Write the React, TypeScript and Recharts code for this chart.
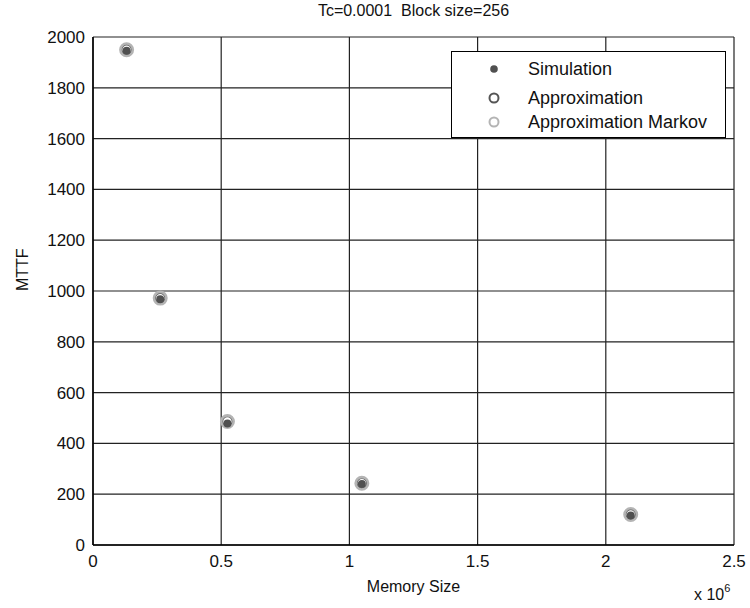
import React from 'react';
import { ScatterChart, Scatter, XAxis, YAxis, CartesianGrid } from 'recharts';

const memorySize = [0.131072, 0.262144, 0.524288, 1.048576, 2.097152];
const simulation = [1946, 968, 478, 240, 116];
const approximation = [1950, 972, 486, 243, 120];
const approximationMarkov = [1950, 972, 486, 243, 120];
const xTicks = [0, 0.5, 1, 1.5, 2, 2.5];
const yTicks = [0, 200, 400, 600, 800, 1000, 1200, 1400, 1600, 1800, 2000];

const toPts = (ys: number[]) => memorySize.map((x, i) => ({ x, y: ys[i] }));
const simData = toPts(simulation);
const approxData = toPts(approximation);
const markovData = toPts(approximationMarkov);

const FONT = 'Liberation Sans, Arial, sans-serif';

const SimShape = (p: any) => <circle cx={p.cx} cy={p.cy} r={4} fill="#505050" />;
const ApproxShape = (p: any) => <circle cx={p.cx} cy={p.cy} r={5.2} fill="none" stroke="#606060" strokeWidth={2} />;
const MarkovShape = (p: any) => <circle cx={p.cx} cy={p.cy} r={6.2} fill="none" stroke="#b4b4b4" strokeWidth={2.6} />;

const legendItems = [
  { label: 'Simulation', kind: 'sim', top: 6 },
  { label: 'Approximation', kind: 'approx', top: 35 },
  { label: 'Approximation Markov', kind: 'markov', top: 59 },
];

const LegendBox = () => (
  <div style={{ position: 'absolute', left: 451, top: 51, width: 275, height: 87, border: '1px solid #000', background: '#fff', boxSizing: 'border-box', fontFamily: FONT, fontSize: 18, color: '#111' }}>
    {legendItems.map((e) => (
      <div key={e.label} style={{ position: 'absolute', left: 0, top: e.top, height: 22, display: 'flex', alignItems: 'center' }}>
        <svg width={76} height={22} style={{ display: 'block' }}>
          {e.kind === 'sim' && <circle cx={42} cy={11} r={3.8} fill="#505050" />}
          {e.kind === 'approx' && <circle cx={42} cy={11} r={4.5} fill="none" stroke="#555" strokeWidth={2} />}
          {e.kind === 'markov' && <circle cx={42} cy={11} r={4.5} fill="none" stroke="#b4b4b4" strokeWidth={2} />}
        </svg>
        <span style={{ whiteSpace: 'nowrap' }}>{e.label}</span>
      </div>
    ))}
  </div>
);

export default function App() {
  return (
    <div style={{ position: 'absolute', left: 0, top: 0, width: 750, height: 608, background: '#fff', fontFamily: FONT }}>
      <ScatterChart width={750} height={608} margin={{ top: 37, right: 16, bottom: 0, left: 0 }}>
        <CartesianGrid stroke="#222" strokeWidth={1.2} horizontalValues={yTicks} verticalValues={xTicks} />
        <XAxis
          type="number"
          dataKey="x"
          domain={[0, 2.5]}
          ticks={xTicks}
          height={63}
          tickLine={false}
          axisLine={{ stroke: '#000', strokeWidth: 1.5 }}
          tick={{ fill: '#111', fontSize: 17, fontFamily: FONT }}
          tickMargin={4}
          interval={0}
          allowDataOverflow
          label={{ value: 'Memory Size', position: 'insideBottom', offset: 16, fill: '#111', fontSize: 16, fontFamily: FONT }}
        />
        <YAxis
          type="number"
          dataKey="y"
          domain={[0, 2000]}
          ticks={yTicks}
          width={93}
          tickLine={false}
          axisLine={{ stroke: '#000', strokeWidth: 1.5 }}
          tick={{ fill: '#111', fontSize: 17, fontFamily: FONT }}
          tickMargin={2}
          interval={0}
          allowDataOverflow
          label={{ value: 'MTTF', angle: -90, position: 'insideLeft', offset: 22, fill: '#111', fontSize: 16, fontFamily: FONT }}
        />
        <Scatter name="Approximation" data={approxData} shape={ApproxShape} isAnimationActive={false} />
        <Scatter name="Approximation Markov" data={markovData} shape={MarkovShape} isAnimationActive={false} />
        <Scatter name="Simulation" data={simData} shape={SimShape} isAnimationActive={false} />
      </ScatterChart>
      <div style={{ position: 'absolute', left: 93, width: 641, top: 2, textAlign: 'center', fontSize: 16, color: '#111' }}>
        Tc=0.0001&nbsp;&nbsp;Block size=256
      </div>
      <LegendBox />
      <div style={{ position: 'absolute', left: 694, top: 584, fontSize: 16, color: '#111', whiteSpace: 'nowrap' }}>
        x 10<sup style={{ fontSize: 11, position: 'relative', top: -2 }}>6</sup>
      </div>
    </div>
  );
}
